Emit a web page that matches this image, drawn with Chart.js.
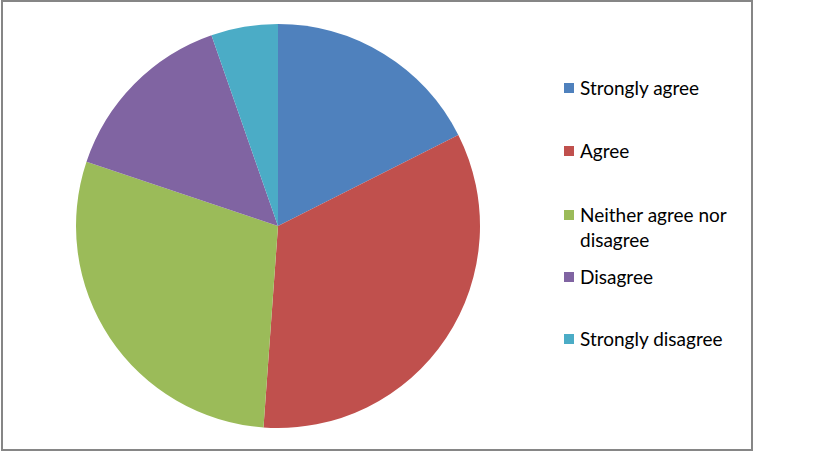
<!DOCTYPE html>
<html>
<head>
<meta charset="utf-8">
<script src="https://cdn.jsdelivr.net/npm/chart.js"></script>
<style>
  html, body { margin: 0; padding: 0; background: #fff; }
  body { width: 819px; height: 460px; position: relative; overflow: hidden; }
  #frame {
    position: absolute; left: 1px; top: 0; width: 752px; height: 451px;
    border: 2px solid #868686; box-sizing: border-box;
  }
  #pieBox { position: absolute; left: 68px; top: 16px; width: 420px; height: 420px; }
  #legend { position: absolute; left: 564px; top: 0; font-family: Lato, sans-serif; font-size: 19px; color: #000; }
  .item { position: absolute; left: 0; white-space: nowrap; }
  .swatch { position: absolute; left: 0; width: 10px; height: 10px; }
  .label { position: absolute; left: 16px; line-height: 25px; }
</style>
</head>
<body>
<div id="frame"></div>
<div id="pieBox"><canvas id="pie" width="420" height="420"></canvas></div>
<div id="legend"></div>
<script>
const categories = ['Strongly agree', 'Agree', 'Neither agree nor disagree', 'Disagree', 'Strongly disagree'];
const legendLines = [['Strongly agree'], ['Agree'], ['Neither agree nor', 'disagree'], ['Disagree'], ['Strongly disagree']];
const values = [23, 44, 38, 19, 7];
const colors = ['#4F81BD', '#C0504D', '#9BBB59', '#8064A2', '#4BACC6'];
const legendCenters = [87, 150, 214, 276, 338];

const legend = document.getElementById('legend');
legendLines.forEach((lines, i) => {
  const item = document.createElement('div');
  item.className = 'item';
  item.style.top = (legendCenters[i] - 12.5) + 'px';
  const sw = document.createElement('div');
  sw.className = 'swatch';
  sw.style.background = colors[i];
  sw.style.top = '8px';
  const lab = document.createElement('div');
  lab.className = 'label';
  lab.innerHTML = lines.join('<br>');
  item.appendChild(sw);
  item.appendChild(lab);
  legend.appendChild(item);
});

new Chart(document.getElementById('pie'), {
  type: 'pie',
  data: {
    labels: categories,
    datasets: [{
      data: values,
      backgroundColor: colors,
      borderWidth: 0
    }]
  },
  options: {
    responsive: false,
    animation: false,
    layout: { padding: 8 },
    plugins: { legend: { display: false }, tooltip: { enabled: false } }
  }
});
</script>
</body>
</html>
